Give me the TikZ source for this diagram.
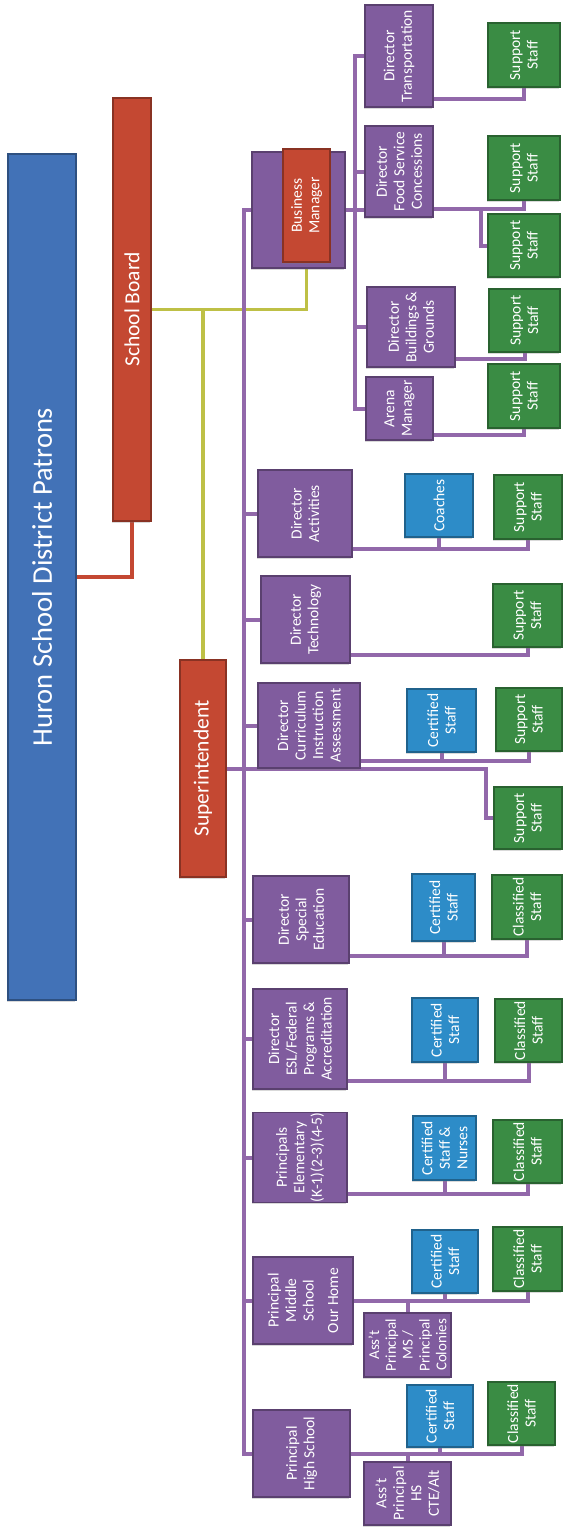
\documentclass[tikz,border=0pt]{standalone}
\usepackage{fontspec}
\setmainfont{Carlito}
\usetikzlibrary{calc,backgrounds,shadows}
\definecolor{patronblue}{RGB}{66,114,183}
\definecolor{orgred}{RGB}{196,72,50}
\definecolor{orgpurple}{RGB}{128,92,158}
\definecolor{orgblue}{RGB}{45,140,200}
\definecolor{orggreen}{RGB}{58,140,68}
\definecolor{linkyellow}{RGB}{190,192,70}
\definecolor{linkpurple}{RGB}{146,104,170}
\begin{document}
\begin{tikzpicture}[x=1pt,y=-1pt,
    box/.style={rotate=90,inner sep=0pt,align=center,text=white,line width=1.2pt,
        font=\fontsize{15.5}{17.5}\selectfont,
        drop shadow={opacity=0.3,shadow xshift=-1.5pt,shadow yshift=-1.5pt}},
    purplebox/.style={box,fill=orgpurple,draw=orgpurple!70!black},
    redbox/.style={box,fill=orgred,draw=orgred!70!black},
    bluebox/.style={box,fill=orgblue,draw=orgblue!70!black},
    greenbox/.style={box,fill=orggreen,draw=orggreen!70!black},
    bigtext/.style={font=\fontsize{21.5}{26}\selectfont},
    link/.style={draw=linkpurple,line width=4pt},
    boardlink/.style={draw=linkyellow,line width=3.5pt}]
    \useasboundingbox (0,0) rectangle (563,1527);
    % patrons, board, superintendent
    \node[box,fill=patronblue,draw=patronblue!70!black,minimum width=846pt,minimum height=68pt,
        font=\fontsize{28.5}{34}\selectfont] (patrons) at (42,577) {Huron School District Patrons};
    \node[redbox,bigtext,minimum width=423pt,minimum height=38pt] (board) at (132,309.5) {School Board};
    \node[redbox,bigtext,minimum width=217pt,minimum height=46pt] (supt) at (203,768.5) {Superintendent};
    \node[purplebox,minimum width=116pt,minimum height=93pt] (bmback) at (298.5,210) {};
    \node[redbox,minimum width=113pt,minimum height=47pt] (busmgr) at (306.5,205.5) {Business\\Manager};
    % business manager side
    \node[purplebox,minimum width=102pt,minimum height=68pt] (trans) at (399,56) {Director\\Transportation};
    \node[purplebox,minimum width=91pt,minimum height=68pt] (food) at (399,171.5) {Director\\Food Service\\Concessions};
    \node[purplebox,minimum width=80pt,minimum height=88pt] (bldg) at (411,327) {Director\\Buildings \&\\Grounds};
    \node[purplebox,minimum width=63pt,minimum height=67pt] (arena) at (399.5,408.5) {Arena\\Manager};
    \node[greenbox,minimum width=64pt,minimum height=72pt] (sstrans) at (524,55) {Support\\Staff};
    \node[greenbox,minimum width=64pt,minimum height=72pt] (ssfood1) at (524,168) {Support\\Staff};
    \node[greenbox,minimum width=63pt,minimum height=72pt] (ssfood2) at (524,245.5) {Support\\Staff};
    \node[greenbox,minimum width=63pt,minimum height=71pt] (ssbldg) at (524.5,320.5) {Support\\Staff};
    \node[greenbox,minimum width=64pt,minimum height=72pt] (ssarena) at (524,396) {Support\\Staff};
    % directors
    \node[purplebox,minimum width=87pt,minimum height=94pt] (act) at (305,513.5) {Director\\Activities};
    \node[bluebox,minimum width=63pt,minimum height=68pt] (coach) at (439,505.5) {Coaches};
    \node[greenbox,minimum width=64pt,minimum height=68pt] (ssact) at (528,507) {Support\\Staff};
    \node[purplebox,minimum width=87pt,minimum height=89pt] (tech) at (305.5,619.5) {Director\\Technology};
    \node[greenbox,minimum width=63pt,minimum height=69pt] (sstech) at (527.5,615.5) {Support\\Staff};
    \node[purplebox,minimum width=85pt,minimum height=102pt] (curr) at (309,725.5) {Director\\Curriculum\\Instruction\\Assessment};
    \node[bluebox,minimum width=63pt,minimum height=69pt] (certcurr) at (441.5,720.5) {Certified\\Staff};
    \node[greenbox,minimum width=63pt,minimum height=66pt] (sscurr1) at (529,719.5) {Support\\Staff};
    \node[greenbox,minimum width=62pt,minimum height=68pt] (sscurr2) at (528,818) {Support\\Staff};
    \node[purplebox,minimum width=87pt,minimum height=96pt] (sped) at (301,919.5) {Director\\Special\\Education};
    \node[bluebox,minimum width=67pt,minimum height=63pt] (certsped) at (443.5,907.5) {Certified\\Staff};
    \node[greenbox,minimum width=64pt,minimum height=70pt] (clsped) at (527,907) {Classified\\Staff};
    \node[purplebox,minimum width=100pt,minimum height=94pt] (esl) at (300,1039) {Director\\ESL/Federal\\Programs \&\\Accreditation};
    \node[bluebox,minimum width=64pt,minimum height=66pt] (certesl) at (445,1030) {Certified\\Staff};
    \node[greenbox,minimum width=63pt,minimum height=67pt] (clesl) at (528.5,1030.5) {Classified\\Staff};
    % principals
    \node[purplebox,minimum width=87pt,minimum height=94pt] (elem) at (300,1157.5) {Principals\\Elementary\\(K-1)(2-3)(4-5)};
    \node[bluebox,minimum width=64pt,minimum height=63pt] (certelem) at (444.5,1148) {Certified\\Staff \&\\Nurses};
    \node[greenbox,minimum width=63pt,minimum height=69pt] (clelem) at (527.5,1151.5) {Classified\\Staff};
    \node[purplebox,minimum width=87pt,minimum height=100pt] (ms) at (303,1300.5) {Principal\\Middle\\School\\[7pt]Our Home};
    \node[bluebox,minimum width=63pt,minimum height=66pt] (certms) at (445,1261.5) {Certified\\Staff};
    \node[greenbox,minimum width=64pt,minimum height=69pt] (clms) at (527.5,1259) {Classified\\Staff};
    \node[purplebox,minimum width=64pt,minimum height=87pt,font=\fontsize{15}{16.8}\selectfont] (astms) at (407.5,1345) {Ass't\\Principal\\MS /\\Principal\\Colonies};
    \node[purplebox,minimum width=87pt,minimum height=97pt] (hs) at (301.5,1453.5) {Principal\\High School};
    \node[bluebox,minimum width=62pt,minimum height=66pt] (cerths) at (440,1416) {Certified\\Staff};
    \node[greenbox,minimum width=63pt,minimum height=67pt] (clhs) at (521.5,1413.5) {Classified\\Staff};
    \node[purplebox,minimum width=63pt,minimum height=87pt] (asths) at (407.5,1493.5) {Ass't\\Principal\\HS\\CTE/Alt};
    \begin{scope}[on background layer]
        \draw[draw=orgred,line width=3.5pt] (patrons.south) -| (board.west);
        \draw[boardlink] (board.south) -| (busmgr.west);
        \draw[boardlink] (supt.east) -- (supt.east |- board.south);
        % trunk under the superintendent
        \draw[link] (bmback.north) -- ++(-7,0) coordinate (trunk) |- (hs.north);
        \foreach \n in {act,tech,curr,sped,esl,elem,ms}
            \draw[link] (\n.north) -- (\n.north -| trunk);
        \draw[link] (supt.south) -| ($(sscurr2.north)+(-7,0)$) -- (sscurr2.north);
        % business manager
        \draw[link] (bmback.south) -- (bmback.south -| food.north);
        \draw[link] (trans.north) -- ++(-9,0) coordinate (bmtrunk) |- (arena.north);
        \foreach \n in {food,bldg}
            \draw[link] (\n.north) -- (\n.north -| bmtrunk);
        % staff
        \foreach \b/\d in {trans/9,food/9,bldg/9,arena/6,act/9,tech/9,curr/8,sped/8,esl/9,elem/9}
            \coordinate (\b-bus) at ($(\b.south west)+(0,-\d)$);
        \coordinate (ms-bus) at (ms.south);
        \coordinate (hs-bus) at (hs.south);
        \foreach \b/\s in {trans/sstrans,food/ssfood1,bldg/ssbldg,arena/ssarena,act/ssact,tech/sstech,
                curr/sscurr1,sped/clsped,esl/clesl,elem/clelem,ms/clms,hs/clhs}
            \draw[link] (\s.west) |- (\b-bus);
        \foreach \b/\s in {act/coach,curr/certcurr,sped/certsped,esl/certesl,elem/certelem,ms/certms,hs/cerths}
            \draw[link] (\s.west) -- (\s.west |- \b-bus);
        \draw[link] (astms.east) -- (astms.east |- ms-bus);
        \draw[link] (asths.east) -- (asths.east |- hs-bus);
        \draw[link] (ssfood2.north) -- ++(-6,0) |- (food-bus);
    \end{scope}
\end{tikzpicture}
\end{document}
